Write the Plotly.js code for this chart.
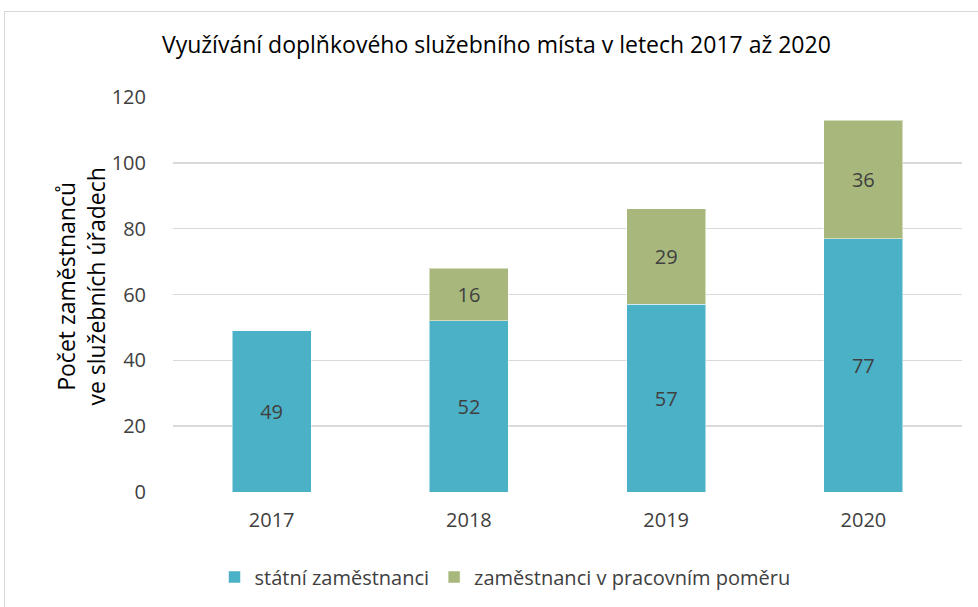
<!DOCTYPE html>
<html>
<head>
<meta charset="utf-8">
<script src="https://cdn.plot.ly/plotly-3.0.1.min.js"></script>
<style>
html,body{margin:0;padding:0;background:#fff;overflow:hidden;}
#chart{width:978px;height:607px;position:relative;}
#frame{position:absolute;left:4px;top:11px;width:1100px;height:800px;border:1px solid #d9d9d9;pointer-events:none;}
</style>
</head>
<body>
<div id="chart"></div>
<div id="frame"></div>
<script>
const years = ['2017', '2018', '2019', '2020'];
const statniZamestnanci = [49, 52, 57, 77];
const pracovniPomer = [null, 16, 29, 36];
const seriesNames = ['státní zaměstnanci', 'zaměstnanci v pracovním poměru'];
const yTicks = [0, 20, 40, 60, 80, 100, 120];

const baseFont = '"Open Sans", sans-serif';
const labelFont = {family: baseFont, size: 20, color: '#404040'};

const traces = [
  {
    type: 'bar', name: seriesNames[0], x: years, y: statniZamestnanci,
    marker: {color: '#4bb1c7', line: {color: 'rgba(255,255,255,0.5)', width: 1}},
    text: statniZamestnanci.map(v => v == null ? '' : String(v)),
    textposition: 'inside', insidetextanchor: 'middle', textangle: 0,
    constraintext: 'none', textfont: labelFont, hoverinfo: 'none'
  },
  {
    type: 'bar', name: seriesNames[1], x: years, y: pracovniPomer,
    marker: {color: '#a8b87d', line: {color: 'rgba(255,255,255,0.5)', width: 1}},
    text: pracovniPomer.map(v => v == null ? '' : String(v)),
    textposition: 'inside', insidetextanchor: 'middle', textangle: 0,
    constraintext: 'none', textfont: labelFont, hoverinfo: 'none'
  }
];

const layout = {
  width: 978, height: 607,
  margin: {l: 173, r: 16, t: 97, b: 114},
  paper_bgcolor: '#fff', plot_bgcolor: '#fff',
  barmode: 'stack', bargap: 0.6,
  title: {
    text: 'Využívání doplňkového služebního místa v letech 2017 až 2020',
    xref: 'container', yref: 'container', x: 162/978, xanchor: 'left',
    y: 1 - 45/607, yanchor: 'middle',
    font: {family: baseFont, size: 23, color: '#000'}
  },
  xaxis: {
    type: 'category', showgrid: false, zeroline: false, showline: false,
    tickfont: labelFont, tickangle: 0, automargin: false,
    ticks: 'outside', ticklen: 10, tickcolor: 'rgba(0,0,0,0)'
  },
  yaxis: {
    range: [0, 120], tickvals: yTicks, ticktext: yTicks.map(String),
    showgrid: true, gridcolor: '#d9d9d9', gridwidth: 1.5,
    zeroline: false, showline: false, automargin: false,
    tickfont: labelFont, ticks: 'outside', ticklen: 22, tickcolor: 'rgba(0,0,0,0)'
  },
  showlegend: true,
  legend: {
    orientation: 'h', x: (505 - 173) / 789, xanchor: 'center', xref: 'paper',
    y: (493 - 577) / 396, yanchor: 'middle',
    font: {family: baseFont, size: 20, color: '#404040'},
    traceorder: 'normal', itemwidth: 30
  },
  annotations: [{
    text: 'Počet zaměstnanců<br>ve služebních úřadech',
    xref: 'paper', yref: 'paper', x: (81 - 173) / 789, y: 0.52,
    xanchor: 'center', yanchor: 'middle', textangle: -90, showarrow: false,
    font: {family: baseFont, size: 23, color: '#000'}
  }]
};

Plotly.newPlot('chart', traces, layout, {displayModeBar: false, staticPlot: true});
</script>
</body>
</html>
